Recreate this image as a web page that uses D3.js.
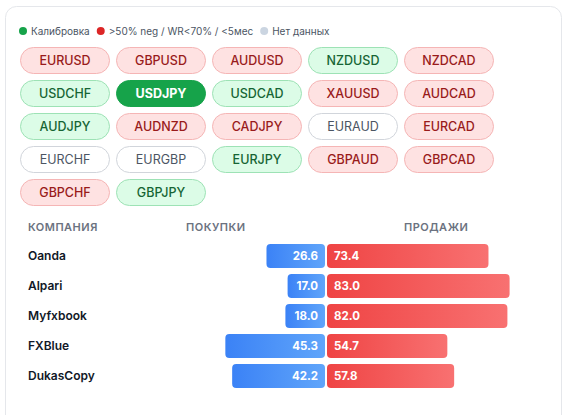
<!DOCTYPE html>
<html>
<head>
<meta charset="utf-8">
<script src="https://cdn.jsdelivr.net/npm/d3@7"></script>
<style>
  html, body { margin: 0; padding: 0; background: #fff; }
  svg { display: block; font-family: Inter, "Noto Sans", sans-serif; }
</style>
</head>
<body>
<script>
//chart data
var pairs = ["EURUSD","GBPUSD","AUDUSD","NZDUSD","NZDCAD",
             "USDCHF","USDJPY","USDCAD","XAUUSD","AUDCAD",
             "AUDJPY","AUDNZD","CADJPY","EURAUD","EURCAD",
             "EURCHF","EURGBP","EURJPY","GBPAUD","GBPCAD",
             "GBPCHF","GBPJPY"];
//status of each pair: "red" / "green" / "none" / "selected"
var pairStatus = ["red","red","red","green","red",
                  "green","selected","green","red","red",
                  "green","red","red","none","red",
                  "none","none","green","red","red",
                  "red","green"];
var legendLabels = ["Калибровка", ">50% neg / WR<70% / <5мес", "Нет данных"];
var headers = ["КОМПАНИЯ", "ПОКУПКИ", "ПРОДАЖИ"];
var companies = ["Oanda", "Alpari", "Myfxbook", "FXBlue", "DukasCopy"];
var buys = [26.6, 17.0, 18.0, 45.3, 42.2];
var sells = [73.4, 83.0, 82.0, 54.7, 57.8];

var width = 568, height = 415;

var svg = d3.select("body").append("svg")
    .attr("width", width)
    .attr("height", height);

var defs = svg.append("defs");
var gBlue = defs.append("linearGradient").attr("id", "gBlue");
gBlue.append("stop").attr("offset", "0%").attr("stop-color", "#3b82f6");
gBlue.append("stop").attr("offset", "100%").attr("stop-color", "#60a5fa");
var gRed = defs.append("linearGradient").attr("id", "gRed");
gRed.append("stop").attr("offset", "0%").attr("stop-color", "#ef4444");
gRed.append("stop").attr("offset", "100%").attr("stop-color", "#f87171");

//card
svg.append("rect")
    .attr("x", 5.5).attr("y", 6.5)
    .attr("width", 556).attr("height", 430)
    .attr("rx", 11)
    .attr("fill", "#fff")
    .attr("stroke", "#e5e7eb");

//legend, laid out one item after another
var legendColors = ["#16a34a", "#dc2626", "#cbd5e1"];
var legend = svg.append("g").attr("transform", "translate(0,31)");
var lx = 19;
legendLabels.forEach(function(label, i){
    legend.append("circle")
        .attr("cx", lx + 4).attr("r", 4)
        .attr("fill", legendColors[i]);
    var t = legend.append("text")
        .attr("x", lx + 12).attr("dy", "0.35em")
        .attr("font-size", 10).attr("fill", "#4b5563")
        .text(label);
    lx += 12 + t.node().getComputedTextLength() + 7;
});

//pills
var pillStyle = {
    red:      { fill: "#fee2e2", stroke: "#f5b5b5", text: "#991b1b", weight: 500 },
    green:    { fill: "#dcfce7", stroke: "#9de2b5", text: "#166534", weight: 500 },
    none:     { fill: "#ffffff", stroke: "#d1d5db", text: "#4b5563", weight: 400 },
    selected: { fill: "#16a34a", stroke: "#16a34a", text: "#ffffff", weight: 700 }
};
var pillX = d3.scaleLinear().domain([0, 1]).range([20.5, 116.5]);
var pillY = d3.scaleLinear().domain([0, 1]).range([47, 80]);
var pillW = 89, pillH = 26;

var pill = svg.selectAll(".pill")
    .data(pairs)
    .enter().append("g")
    .attr("class", "pill")
    .attr("transform", function(d, i){
        return "translate(" + pillX(i % 5) + "," + (pillY(Math.floor(i / 5)) + 0.5) + ")";
    });
pill.append("rect")
    .attr("width", pillW).attr("height", pillH)
    .attr("rx", 13)
    .attr("fill", function(d, i){ return pillStyle[pairStatus[i]].fill; })
    .attr("stroke", function(d, i){ return pillStyle[pairStatus[i]].stroke; });
pill.append("text")
    .attr("x", pillW / 2).attr("y", pillH / 2).attr("dy", "0.36em")
    .attr("text-anchor", "middle")
    .attr("font-size", 12.5)
    .attr("font-weight", function(d, i){ return pillStyle[pairStatus[i]].weight; })
    .attr("fill", function(d, i){ return pillStyle[pairStatus[i]].text; })
    .text(function(d){ return d; });

//table headers
var headerX = [28, 186, 404];
svg.selectAll(".hdr")
    .data(headers)
    .enter().append("text")
    .attr("class", "hdr")
    .attr("x", function(d, i){ return headerX[i]; })
    .attr("y", 231)
    .attr("font-size", 11)
    .attr("font-weight", 600)
    .attr("letter-spacing", 0.5)
    .attr("fill", "#6b7280")
    .text(function(d){ return d; });

//bars
var center = 326;
var x = d3.scaleLinear().domain([0, 100]).range([0, 220]);
var y = d3.scaleBand().domain(companies).range([241, 391]);
var barH = 24;

var row = svg.selectAll(".row")
    .data(companies)
    .enter().append("g")
    .attr("class", "row")
    .attr("transform", function(d){ return "translate(0," + (y(d) + 3) + ")"; });

row.append("text")
    .attr("x", 28).attr("y", barH / 2 - 0.5).attr("dy", "0.36em")
    .attr("font-size", 12).attr("font-weight", 600)
    .attr("fill", "#111827")
    .text(function(d){ return d; });

row.append("rect")
    .attr("x", function(d, i){ return center - 1 - x(buys[i]); })
    .attr("width", function(d, i){ return x(buys[i]); })
    .attr("height", barH).attr("rx", 4)
    .attr("fill", "url(#gBlue)");

row.append("rect")
    .attr("x", center + 1)
    .attr("width", function(d, i){ return x(sells[i]); })
    .attr("height", barH).attr("rx", 4)
    .attr("fill", "url(#gRed)");

row.append("text")
    .attr("x", center - 8).attr("y", barH / 2).attr("dy", "0.36em")
    .attr("text-anchor", "end")
    .attr("font-size", 11.5).attr("font-weight", 700)
    .attr("fill", "#fff")
    .text(function(d, i){ return buys[i].toFixed(1); });

row.append("text")
    .attr("x", center + 8).attr("y", barH / 2).attr("dy", "0.36em")
    .attr("font-size", 11.5).attr("font-weight", 700)
    .attr("fill", "#fff")
    .text(function(d, i){ return sells[i].toFixed(1); });
</script>
</body>
</html>
